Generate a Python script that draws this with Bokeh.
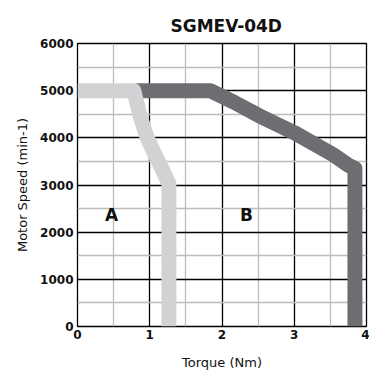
from bokeh.plotting import figure
from bokeh.models import FixedTicker, Range1d, Label
from bokeh.embed import file_html
from bokeh.resources import INLINE

# Data
a_torque = [0.0, 0.78, 0.82, 0.87, 0.92, 0.97, 1.04, 1.11, 1.19, 1.265, 1.265]
a_speed = [5000, 5000, 4750, 4450, 4200, 3980, 3750, 3530, 3280, 3030, 0]
b_torque = [0.8, 1.84, 2.16, 2.5, 3.0, 3.54, 3.75, 3.84, 3.84]
b_speed = [5000, 5000, 4760, 4480, 4110, 3640, 3420, 3350, 0]
x_ticks = [0, 1, 2, 3, 4]
x_minor = [0.5, 1.5, 2.5, 3.5]
y_ticks = [0, 1000, 2000, 3000, 4000, 5000, 6000]
y_minor = [500, 1500, 2500, 3500, 4500, 5500]
title_text = "SGMEV-04D"
x_label = "Torque (Nm)"
y_label = "Motor Speed (min-1)"
region_labels = ["A", "B"]
region_x = [0.47, 2.34]
region_y = [2360, 2360]

FONT = "DejaVu Sans"

p = figure(width=369, height=372, output_backend="svg", toolbar_location=None,
           x_range=Range1d(0, 4), y_range=Range1d(0, 6000),
           min_border_left=77, min_border_right=3, min_border_top=43, min_border_bottom=45)
p.background_fill_color = "white"
p.border_fill_color = "white"
p.outline_line_color = "black"
p.outline_line_width = 1.3

p.title.text = title_text
p.title.align = "left"
p.title.text_font = FONT
p.title.text_font_size = "17px"
p.title.text_font_style = "bold"
p.title.text_color = "#111111"
p.title.offset = 93
p.title.standoff = 15

p.xaxis.ticker = FixedTicker(ticks=x_ticks, minor_ticks=x_minor)
p.yaxis.ticker = FixedTicker(ticks=y_ticks, minor_ticks=y_minor)

for g in (p.xgrid, p.ygrid):
    g.grid_line_color = "black"
    g.grid_line_width = 1.3
    g.grid_line_alpha = 1.0
    g.minor_grid_line_color = "#bdbdbd"
    g.minor_grid_line_width = 1.3

for ax in (p.xaxis, p.yaxis):
    ax.axis_line_color = None
    ax.major_tick_line_color = None
    ax.minor_tick_line_color = None
    ax.major_tick_out = 0
    ax.major_tick_in = 0
    ax.minor_tick_out = 0
    ax.minor_tick_in = 0
    ax.major_label_text_font = FONT
    ax.major_label_text_font_size = "12px"
    ax.major_label_text_font_style = "bold"
    ax.major_label_text_color = "#111111"
    ax.axis_label_text_font = FONT
    ax.axis_label_text_font_size = "13px"
    ax.axis_label_text_font_style = "normal"
    ax.axis_label_text_color = "#111111"

p.xaxis.major_label_standoff = 3
p.yaxis.major_label_standoff = 4
p.xaxis.axis_label = x_label
p.yaxis.axis_label = y_label
p.xaxis.axis_label_standoff = 13
p.yaxis.axis_label_standoff = 7

p.line(b_torque, b_speed, line_width=15, line_color="#6d6e71", line_join="round", line_cap="butt")
p.line(a_torque, a_speed, line_width=15, line_color="#d1d2d4", line_join="round", line_cap="butt")

for t, x, y in zip(region_labels, region_x, region_y):
    p.add_layout(Label(x=x, y=y, text=t, text_font=FONT, text_font_size="17px",
                       text_font_style="bold", text_align="center", text_baseline="middle",
                       text_color="#111111"))

open("out.html", "w").write(file_html(p, INLINE))
